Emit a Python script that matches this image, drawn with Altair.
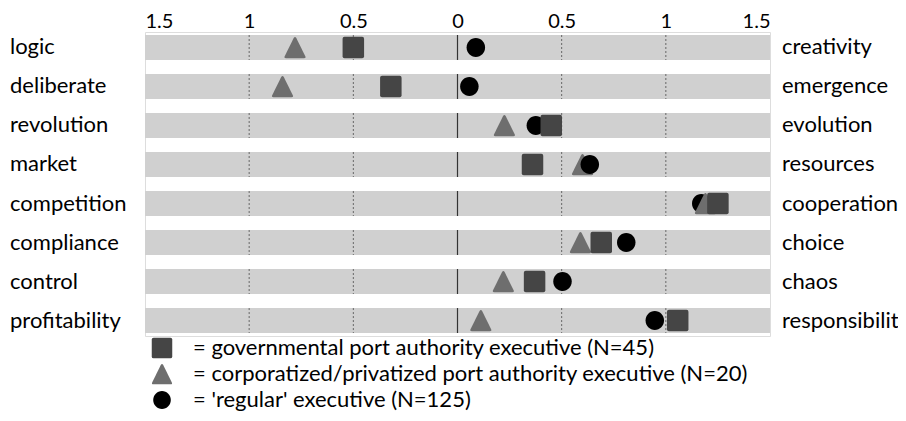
import altair as alt
import pandas as pd

left_labels = ["logic", "deliberate", "revolution", "market", "competition",
               "compliance", "control", "profitability"]
right_labels = ["creativity", "emergence", "evolution", "resources", "cooperation",
                "choice", "chaos", "responsibilit"]
series_names = ["= governmental port authority executive (N=45)",
                "= corporatized/privatized port authority executive (N=20)",
                "= 'regular' executive (N=125)"]
governmental = [-0.50, -0.32, 0.45, 0.36, 1.25, 0.69, 0.37, 1.057]
corporatized = [-0.78, -0.84, 0.225, 0.60, 1.19, 0.59, 0.22, 0.112]
regular = [0.088, 0.057, 0.376, 0.635, 1.17, 0.81, 0.504, 0.947]
tick_values = [-1.5, -1, -0.5, 0, 0.5, 1, 1.5]
grid_values = [-1, -0.5, 0.5, 1]
x_min, x_max = -1.5, 1.5

FONT = "Lato"
BAND_HALF = 0.32

rows = pd.DataFrame({"idx": list(range(len(left_labels))),
                     "left": left_labels, "right": right_labels,
                     "lo": x_min, "hi": x_max})

series_vals = {series_names[0]: governmental, series_names[1]: corporatized,
               series_names[2]: regular}
# drawing order within each row (later = on top)
default_order = [series_names[2], series_names[1], series_names[0]]
row_order = {3: [series_names[1], series_names[2], series_names[0]]}

pts = []
for i in range(len(left_labels)):
    for name in row_order.get(i, default_order):
        pts.append({"idx": i, "value": series_vals[name][i], "series": name})
pts = pd.DataFrame(pts)

grid = pd.DataFrame([{"idx": i, "g": g} for i in range(len(left_labels)) for g in grid_values])
zero = pd.DataFrame([{"idx": i, "g": 0} for i in range(len(left_labels))])

xscale = alt.Scale(domain=[x_min, x_max], nice=False, zero=False)
yscale = alt.Scale(domain=[-0.397, 7.397], reverse=True, nice=False, zero=False)

xaxis = alt.Axis(orient="top", values=tick_values, labelExpr="'' + abs(datum.value)",
                 labelFlush=True, domain=False, ticks=False, grid=False, title=None,
                 labelFont=FONT, labelFontSize=20, labelColor="black",
                 labelBaseline="alphabetic", labelPadding=5)

base_y = alt.Y("ylo:Q", scale=yscale, axis=None)

bands = alt.Chart(rows).transform_calculate(
    ylo=f"datum.idx - {BAND_HALF}", yhi=f"datum.idx + {BAND_HALF}"
).mark_rect(color="#d0d0d0").encode(
    x=alt.X("lo:Q", scale=xscale, axis=xaxis),
    x2="hi:Q",
    y=base_y, y2="yhi:Q",
)

grid_rules = alt.Chart(grid).transform_calculate(
    ylo=f"datum.idx - {BAND_HALF}", yhi=f"datum.idx + {BAND_HALF}"
).mark_rule(color="#666666", strokeWidth=1, strokeDash=[2, 2]).encode(
    x=alt.X("g:Q", scale=xscale), y=base_y, y2="yhi:Q",
)

zero_rules = alt.Chart(zero).transform_calculate(
    ylo=f"datum.idx - {BAND_HALF}", yhi=f"datum.idx + {BAND_HALF}"
).mark_rule(color="#333333", strokeWidth=1.2).encode(
    x=alt.X("g:Q", scale=xscale), y=base_y, y2="yhi:Q",
)

sq = "M-0.82,-1H0.82Q1,-1 1,-0.82V0.82Q1,1 0.82,1H-0.82Q-1,1 -1,0.82V-0.82Q-1,-1 -0.82,-1Z"
tri = "M-0.12,-0.88Q0,-1.08 0.12,-0.88L0.96,0.82Q1.04,1 0.84,1H-0.84Q-1.04,1 -0.96,0.82Z"
circ = "M0.86,0A0.86,0.88 0 1,1 -0.86,0A0.86,0.88 0 1,1 0.86,0Z"

points = alt.Chart(pts).mark_point(filled=True, opacity=1, size=462).encode(
    x=alt.X("value:Q", scale=xscale),
    y=alt.Y("idx:Q", scale=yscale),
    shape=alt.Shape("series:N", scale=alt.Scale(domain=series_names, range=[sq, tri, circ]),
                    legend=alt.Legend(title=None, orient="none", legendX=6, legendY=305,
                                      symbolSize=420, labelFont=FONT, labelFontSize=22,
                                      labelColor="black", labelLimit=800, rowPadding=4,
                                      labelOffset=20, padding=0, symbolStrokeWidth=0)),
    color=alt.Color("series:N", scale=alt.Scale(domain=series_names,
                                                range=["#454545", "#6e6e6e", "#000000"])),
)

left_text = alt.Chart(rows).mark_text(align="left", baseline="middle", font=FONT,
                                      fontSize=22, color="black").encode(
    x=alt.value(-135), y=alt.Y("idx:Q", scale=yscale), text="left:N")
right_text = alt.Chart(rows).mark_text(align="left", baseline="middle", font=FONT,
                                       fontSize=22, color="black").encode(
    x=alt.value(637), y=alt.Y("idx:Q", scale=yscale), text="right:N")

chart = alt.layer(bands, grid_rules, zero_rules, points, left_text, right_text).properties(
    width=625, height=304,
    autosize=alt.AutoSizeParams(type="none"),
    padding={"left": 137, "top": 24, "right": 128, "bottom": 77},
).configure_view(stroke=None).configure(background="white")

chart.save("out.html", embed_options={"renderer": "svg", "actions": False})
